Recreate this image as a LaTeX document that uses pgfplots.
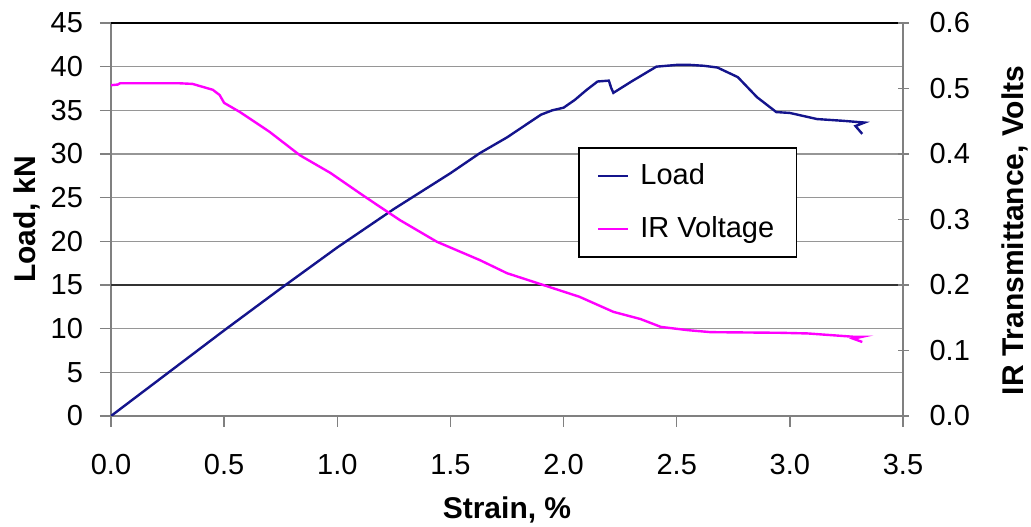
\documentclass[border=0pt]{standalone}
\usepackage{fontspec}
\setmainfont{Liberation Sans}
\usepackage{pgfplots}
\pgfplotsset{compat=1.18}

\definecolor{loadblue}{RGB}{20,20,140}
\definecolor{irmag}{RGB}{255,0,255}
\definecolor{gridgray}{RGB}{150,150,150}
\definecolor{axgray}{RGB}{128,128,128}

\pgfplotstableread{
x     y
0.00  0.0
0.25  4.9
0.50  9.8
0.75  14.6
1.00  19.3
1.25  23.7
1.50  27.8
1.63  30.1
1.75  31.9
1.90  34.5
1.95  35.0
2.00  35.3
2.05  36.2
2.10  37.3
2.15  38.3
2.20  38.4
2.21  37.6
2.22  37.0
2.30  38.3
2.41  40.0
2.50  40.2
2.56  40.2
2.62  40.1
2.68  39.9
2.77  38.8
2.855 36.5
2.94  34.8
3.00  34.7
3.12  34.0
3.235 33.8
3.33  33.6
3.29  33.2
3.32  32.3
}\loaddata

\pgfplotstableread{
x     y
0.00  0.505
0.03  0.506
0.04  0.508
0.30  0.508
0.36  0.507
0.45  0.498
0.48  0.490
0.50  0.478
0.57  0.464
0.70  0.434
0.835 0.398
0.97  0.371
1.10  0.340
1.19  0.319
1.277 0.299
1.44  0.266
1.63  0.238
1.75  0.218
1.91  0.200
2.07  0.182
2.22  0.159
2.34  0.148
2.43  0.136
2.55  0.131
2.65  0.128
2.96  0.127
3.08  0.126
3.28  0.121
3.32  0.121
3.28  0.118
3.32  0.113
}\irdata

\begin{document}
\begin{tikzpicture}
\pgfplotsset{
  every axis/.append style={
    width=396pt, height=196.5pt, scale only axis,
    xmin=0, xmax=3.5,
    font=\fontsize{14.5}{17}\selectfont,
    /pgf/number format/assume math mode=true,
    axis line style={axgray, line width=0.7pt},
    major tick style={axgray, line width=0.7pt},
    major tick length=5.5pt,
  },
}
\begin{axis}[
  name=ax,
  axis x line*=bottom, axis y line*=left,
  ymin=0, ymax=45,
  ytick distance=5,
  xtick distance=0.5,
  tick align=outside,
  xticklabel style={yshift=-10pt, /pgf/number format/.cd, fixed, fixed zerofill, precision=1},
  yticklabel style={xshift=-5pt},
  ymajorgrids,
  major grid style={gridgray, line width=0.7pt},
  xlabel={\fontsize{15}{18}\selectfont\bfseries Strain, \%},
  ylabel={\fontsize{15}{18}\selectfont\bfseries Load, kN},
  xlabel style={at={(axis description cs:0.5,-0.239)}, anchor=center},
  ylabel style={at={(axis description cs:-0.106,0.5)}, anchor=center},
]
\draw[black!80, line width=0.8pt] (axis cs:0,15) -- (axis cs:3.5,15);
\draw[black, line width=0.8pt] (rel axis cs:0,1) -- (rel axis cs:1,1);
\addplot[loadblue, line width=1.2pt] table[x=x, y=y] {\loaddata};
\end{axis}
\begin{axis}[
  axis x line=none, axis y line*=right,
  ymin=0, ymax=0.6,
  ytick distance=0.1,
  tick align=center,
  yticklabel style={xshift=7pt, /pgf/number format/.cd, fixed, fixed zerofill, precision=1},
  ylabel={\fontsize{15}{18}\selectfont\bfseries IR Transmittance, Volts},
  ylabel style={at={(axis description cs:1.141,0.472)}, anchor=center},
  legend style={at={(0.59,0.684)}, anchor=north west, draw=black, line width=0.7pt,
    font=\fontsize{14.5}{17}\selectfont, row sep=10.5pt, inner xsep=9pt, inner ysep=6pt,
    cells={anchor=west}},
  legend image code/.code={\draw[#1, line width=1.2pt] (0pt,0pt) -- (15pt,0pt); \path (18.5pt,0pt);},
]
\addlegendimage{loadblue}
\addlegendentry{Load}
\addplot[irmag, line width=1.2pt] table[x=x, y=y] {\irdata};
\addlegendentry{IR Voltage}
\end{axis}
\pgfresetboundingbox
\path ([shift={(-55.5pt,-55.5pt)}]ax.south west) rectangle ([shift={(64pt,11.5pt)}]ax.north east);
\end{tikzpicture}
\end{document}
